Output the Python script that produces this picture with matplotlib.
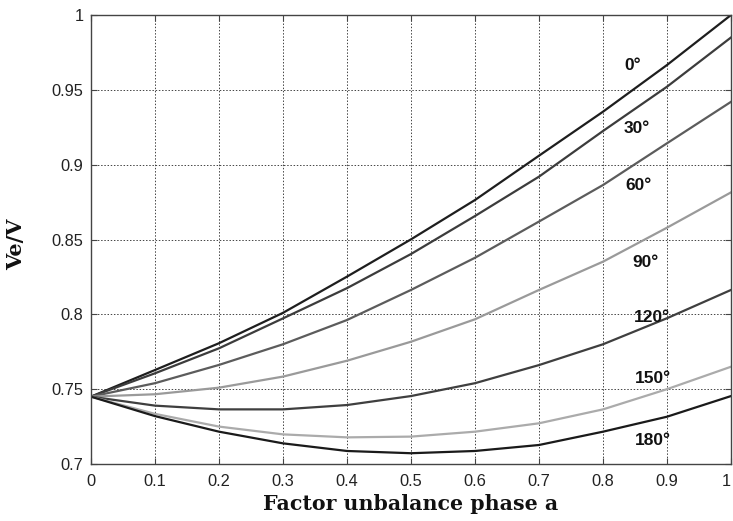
import matplotlib
matplotlib.use("Agg")
import matplotlib.pyplot as plt

# Unbalance factor of phase a
factor = [0.0, 0.1, 0.2, 0.3, 0.4, 0.5, 0.6, 0.7, 0.8, 0.9, 1.0]

# Ve/V for each phase-angle of the unbalance
ve_0 = [0.745, 0.7628, 0.7807, 0.801, 0.8252, 0.8501, 0.8764, 0.906, 0.9354, 0.9666, 1.0]
ve_30 = [0.745, 0.7606, 0.7773, 0.7973, 0.8175, 0.8403, 0.8657, 0.892, 0.9225, 0.9521, 0.985]
ve_60 = [0.745, 0.754, 0.7662, 0.780, 0.7962, 0.8163, 0.8378, 0.862, 0.8864, 0.9143, 0.942]
ve_90 = [0.745, 0.7466, 0.751, 0.7584, 0.769, 0.7817, 0.7967, 0.8163, 0.8352, 0.8579, 0.8815]
ve_120 = [0.745, 0.739, 0.7365, 0.7365, 0.7394, 0.7454, 0.754, 0.7661, 0.780, 0.7974, 0.8163]
ve_150 = [0.745, 0.7335, 0.725, 0.7198, 0.7178, 0.7183, 0.7216, 0.7272, 0.7365, 0.750, 0.765]
ve_180 = [0.745, 0.732, 0.7216, 0.7138, 0.7087, 0.7072, 0.7087, 0.7127, 0.7216, 0.7316, 0.7454]

angle_labels = ["0°", "30°", "60°", "90°", "120°", "150°", "180°"]
series = [ve_0, ve_30, ve_60, ve_90, ve_120, ve_150, ve_180]
colors = ["#1e1e1e", "#3c3c3c", "#5c5c5c", "#9a9a9a", "#3f3f3f", "#ababab", "#1a1a1a"]
label_pos = [(0.847, 0.966), (0.853, 0.9245), (0.856, 0.886), (0.867, 0.8345),
             (0.876, 0.798), (0.878, 0.757), (0.878, 0.716)]

fig = plt.figure(figsize=(7.33, 5.21), dpi=100)
ax = fig.add_axes([0.1241, 0.1094, 0.8732, 0.8618])

for ys, c in zip(series, colors):
    ax.plot(factor, ys, color=c, linewidth=1.6, solid_joinstyle="round")

for txt, (lx, ly) in zip(angle_labels, label_pos):
    ax.text(lx, ly, txt, ha="center", va="center", fontsize=12.5,
            fontweight="bold", family="Liberation Sans", color="#111111")

ax.set_xlim(0, 1)
ax.set_ylim(0.7, 1.0)
ax.set_xticks([i / 10 for i in range(11)])
ax.set_xticklabels(["0", "0.1", "0.2", "0.3", "0.4", "0.5", "0.6", "0.7", "0.8", "0.9", "1"])
ax.set_yticks([0.7, 0.75, 0.8, 0.85, 0.9, 0.95, 1.0])
ax.set_yticklabels(["0.7", "0.75", "0.8", "0.85", "0.9", "0.95", "1"])

ax.grid(True, color="#444444", linestyle=(0, (1.5, 1.8)), linewidth=0.7)
ax.tick_params(direction="in", length=4, width=0.8, color="#444444",
               top=True, right=True, labelsize=11.8, labelcolor="#222222")
ax.tick_params(axis="x", pad=7)
ax.tick_params(axis="y", pad=5.5)
for lab in ax.get_xticklabels() + ax.get_yticklabels():
    lab.set_family("Liberation Sans")
xt = ax.get_xticklabels()
xt[-1].set_horizontalalignment("right")
for sp in ax.spines.values():
    sp.set_color("#444444")
    sp.set_linewidth(1.0)

ax.set_xlabel("Factor unbalance phase a", family="DejaVu Serif",
              fontweight="bold", fontsize=14.8, color="#111111")
ax.set_ylabel("Ve/V", family="DejaVu Serif", fontweight="bold",
              fontsize=15, color="#111111")
ax.xaxis.set_label_coords(0.5, -0.066)
ax.yaxis.set_label_coords(-0.101, 0.49)

fig.savefig("out.png", dpi=100)
